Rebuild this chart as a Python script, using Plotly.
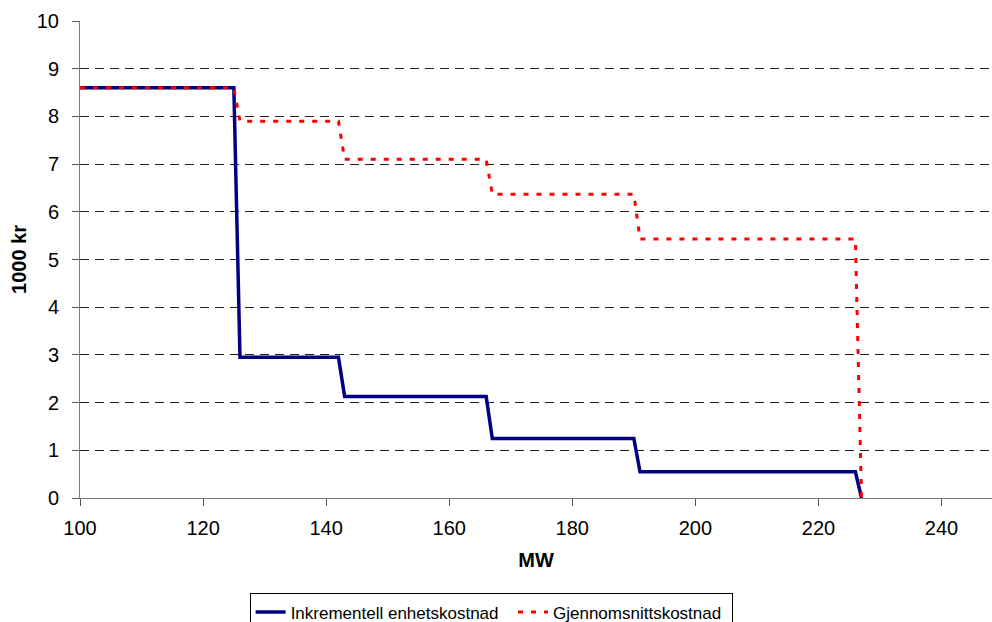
import plotly.graph_objects as go

# Data
mw_inc = [100, 125, 126, 142, 143, 166, 167, 190, 191, 226, 227]
cost_inc = [8.6, 8.6, 2.95, 2.95, 2.13, 2.13, 1.25, 1.25, 0.55, 0.55, 0.0]

mw_avg = [100, 125, 126, 142, 143, 166, 167, 190, 191, 226, 227]
cost_avg = [8.6, 8.6, 7.9, 7.9, 7.1, 7.1, 6.37, 6.37, 5.43, 5.43, 0.0]

x_ticks = [100, 120, 140, 160, 180, 200, 220, 240]
y_ticks = [0, 1, 2, 3, 4, 5, 6, 7, 8, 9, 10]

fig = go.Figure()
fig.add_trace(go.Scatter(
    x=mw_inc, y=cost_inc, mode="lines", name="Inkrementell enhetskostnad&nbsp;&nbsp;",
    line=dict(color="#000080", width=3.5),
))
fig.add_trace(go.Scatter(
    x=mw_avg, y=cost_avg, mode="lines", name="Gjennomsnittskostnad&nbsp;",
    line=dict(color="#ff0000", width=3, dash="5px,8px"),
))

fig.update_layout(
    width=992, height=622,
    margin=dict(l=80, r=0, t=21, b=124, autoexpand=False),
    paper_bgcolor="white", plot_bgcolor="white",
    font=dict(family="Liberation Sans, Arial, sans-serif", color="black", size=20),
    showlegend=True,
    legend=dict(
        orientation="h", x=0.186, xanchor="left", y=-0.2, yanchor="top",
        bordercolor="black", borderwidth=1, font=dict(size=17),
        bgcolor="white", tracegroupgap=0, itemwidth=30,
    ),
)
fig.update_xaxes(
    range=[100, 248.2], tickvals=x_ticks, ticks="outside", ticklen=7,
    tickcolor="#555555", showline=True, linecolor="#7f7f7f", linewidth=1,
    showgrid=False, zeroline=False, tickfont=dict(size=20), ticklabelstandoff=5,
    title=dict(text="<b>MW</b>", font=dict(size=20), standoff=14),
)
fig.update_yaxes(
    range=[0, 10], tickvals=y_ticks, ticks="outside", ticklen=7,
    tickcolor="#555555", showline=True, linecolor="#7f7f7f", linewidth=1,
    showgrid=True, gridcolor="#222222", griddash="9px,6px", gridwidth=1,
    zeroline=False, tickfont=dict(size=20), ticklabelstandoff=9,
    title=dict(text="<b>1000 kr</b>", font=dict(size=20), standoff=4),
)

fig.write_html("out.html")
